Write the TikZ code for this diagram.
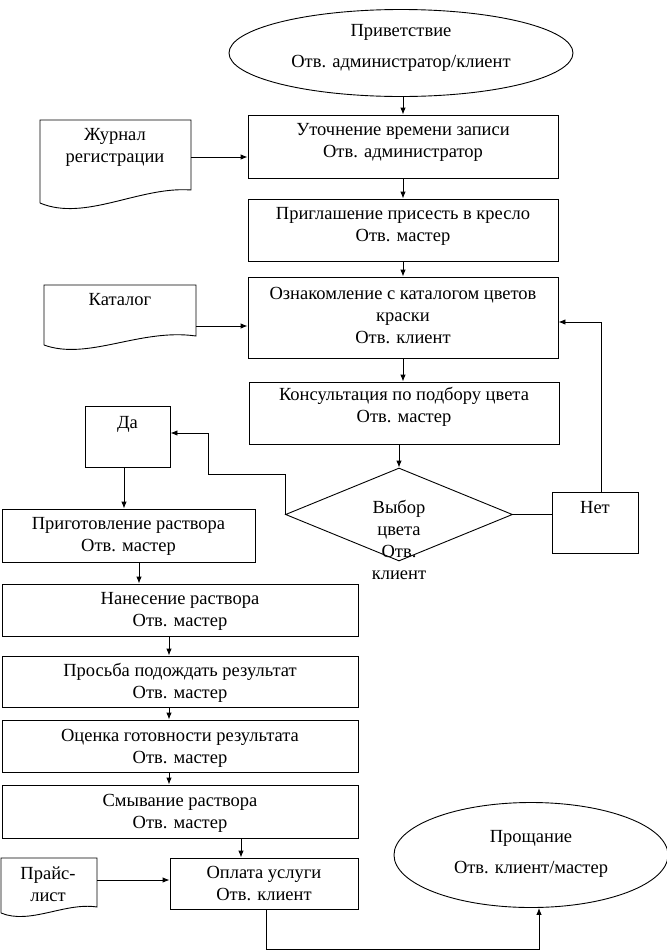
\documentclass[tikz,border=0pt]{standalone}
\usepackage{fontspec}
\setmainfont{Liberation Serif}
\usetikzlibrary{arrows.meta,shapes.geometric}
\begin{document}
\begin{tikzpicture}[x=1pt,y=-1pt,
  every node/.style={font=\fontsize{18.5}{22}\selectfont},
  shp/.style={draw, line width=0.9pt, inner sep=0pt},
  rbox/.style={shp, rectangle},
  txt/.style={align=center, inner sep=0pt},
  ln/.style={line width=0.9pt},
  arr/.style={line width=0.9pt, -{Latex[length=7pt,width=5.5pt]}}]
\useasboundingbox (0,0) rectangle (667,951);

% start ellipse
\node[shp, ellipse, minimum width=344, minimum height=87] (e1) at (401,53) {};
\node[txt] (e1a) at (401,32) {Приветствие};
\node[txt] (e1b) at (401,63) {Отв. администратор/клиент};

% main column boxes
\node[rbox, minimum width=310, minimum height=63] (b1) at (403,146.5) {};
\node[txt] (t1) at (403,142) {Уточнение времени записи\\Отв. администратор};

\node[rbox, minimum width=310, minimum height=62] (b2) at (403,230) {};
\node[txt] (t2) at (403,226) {Приглашение присесть в кресло\\Отв. мастер};

\node[rbox, minimum width=310, minimum height=81] (b3) at (403,317.5) {};
\node[txt] (t3) at (403,315.5) {Ознакомление с каталогом цветов\\краски\\Отв. клиент};

\node[rbox, minimum width=310, minimum height=62] (b4) at (404,413) {};
\node[txt] (t4) at (404,407) {Консультация по подбору цвета\\Отв. мастер};

% decision
\node[shp, diamond, minimum width=227, minimum height=93] (dm) at (399,514.5) {};
\node[txt] (tdm) at (399,540) {Выбор\\цвета\\Отв.\\клиент};

\node[rbox, minimum width=85, minimum height=61] (da) at (127.5,436.5) {};
\node[txt] (tda) at (127.5,424) {Да};

\node[rbox, minimum width=86, minimum height=61] (net) at (595,522.5) {};
\node[txt] (tnet) at (595,508) {Нет};

% left column
\node[rbox, minimum width=253, minimum height=53] (b5) at (128.5,535.5) {};
\node[txt] (t5) at (128.5,536) {Приготовление раствора\\Отв. мастер};

\node[rbox, minimum width=356, minimum height=52] (b6) at (180,610) {};
\node[txt] (t6) at (180,611) {Нанесение раствора\\Отв. мастер};

\node[rbox, minimum width=356, minimum height=51] (b7) at (180,681.5) {};
\node[txt] (t7) at (180,683) {Просьба подождать результат\\Отв. мастер};

\node[rbox, minimum width=356, minimum height=52] (b8) at (180,746) {};
\node[txt] (t8) at (180,748) {Оценка готовности результата\\Отв. мастер};

\node[rbox, minimum width=356, minimum height=53] (b9) at (180,811.5) {};
\node[txt] (t9) at (180,813) {Смывание раствора\\Отв. мастер};

\node[rbox, minimum width=188, minimum height=51] (b10) at (264,883.5) {};
\node[txt] (t10) at (264,883.5) {Оплата услуги\\Отв. клиент};

% end ellipse
\node[shp, ellipse, minimum width=274, minimum height=105] (e2) at (531,855) {};
\node[txt] (e2a) at (531,838) {Прощание};
\node[txt] (e2b) at (531,869) {Отв. клиент/мастер};

% documents
\draw[ln] (40,203) -- (40,120) -- (191,120) -- (191,190)
  .. controls (140,186) and (85,222) .. (40,203);
\node[txt] (tj) at (115,147) {Журнал\\регистрации};
\coordinate (jr) at (191,157);

\draw[ln] (44,345) -- (44,285) -- (196,285) -- (196,336)
  .. controls (140,328) and (88,361) .. (44,345);
\node[txt] (tk) at (120,300) {Каталог};
\coordinate (kr) at (196,326);

\draw[ln] (1,913) -- (1,858) -- (97,858) -- (97,907)
  .. controls (65,902) and (30,925) .. (1,913);
\node[txt] (tp) at (48,884) {Прайс-\\лист};
\coordinate (pr) at (97,880);

% connectors
\draw[arr] (e1.south -| b1.north) -- (b1.north);
\draw[arr] (jr) -- (jr -| b1.west);
\draw[arr] (b1.south) -- (b2.north);
\draw[arr] (b2.south) -- (b3.north);
\draw[arr] (kr) -- (kr -| b3.west);
\draw[arr] (b3.south) -- (b4.north -| b3.south);
\draw[arr] (b4.south -| dm.north) -- (dm.north);
\draw[ln] (dm.east) -- (dm.east -| net.west);
\coordinate (nt) at (601,0);
\coordinate (b3r) at (0,322);
\draw[arr] (nt |- net.north) -- (nt |- b3r) -- (b3r -| b3.east);
\coordinate (c1) at (208,474);
\coordinate (c2) at (0,433);
\draw[arr] (dm.west) -- (dm.west |- c1) -- (c1) -- (c1 |- c2) -- (c2 -| da.east);
\coordinate (dx) at (124,0);
\draw[arr] (dx |- da.south) -- (dx |- b5.north);
\coordinate (x5) at (139,0);
\draw[arr] (x5 |- b5.south) -- (x5 |- b6.north);
\coordinate (x6) at (169,0);
\draw[arr] (x6 |- b6.south) -- (x6 |- b7.north);
\draw[arr] (x6 |- b7.south) -- (x6 |- b8.north);
\draw[arr] (x6 |- b8.south) -- (x6 |- b9.north);
\coordinate (x9) at (241,0);
\draw[arr] (x9 |- b9.south) -- (x9 |- b10.north);
\draw[arr] (pr) -- (pr -| b10.west);
\coordinate (x10) at (266,0);
\coordinate (yb) at (0,949.5);
\coordinate (xe) at (539,0);
\draw[arr] (x10 |- b10.south) -- (x10 |- yb) -- (xe |- yb) -- (xe |- e2.south);
\end{tikzpicture}
\end{document}
